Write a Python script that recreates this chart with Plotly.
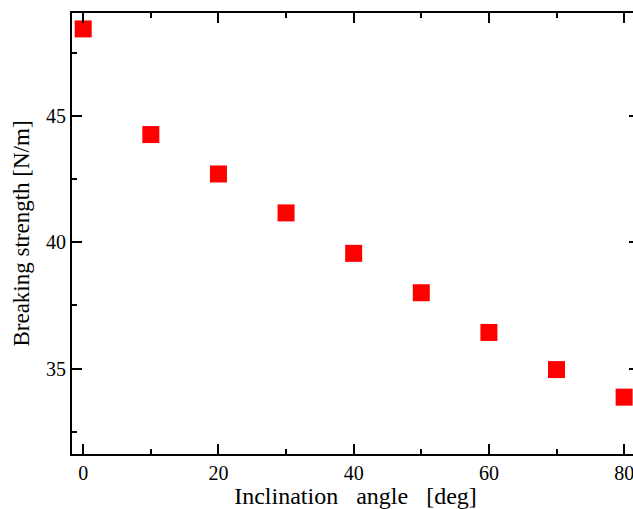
import plotly.graph_objects as go

angles = [0, 10, 20, 30, 40, 50, 60, 70, 80]
strength = [48.44, 44.26, 42.70, 41.16, 39.56, 38.00, 36.43, 34.96, 33.87]
x_ticks = [0, 20, 40, 60, 80]
y_ticks = [35, 40, 45]

FONT = "Liberation Serif, Times New Roman, serif"
SP = "\u00a0\u00a0\u00a0"

fig = go.Figure()
fig.add_trace(go.Scatter(
    x=angles, y=strength, mode="markers",
    marker=dict(symbol="square", size=17, color="#ff0000", line=dict(width=0)),
    showlegend=False,
))

axis_common = dict(
    showline=True, linecolor="black", linewidth=2, mirror="allticks",
    ticks="inside", ticklen=10, tickwidth=1.5, tickcolor="black",
    showgrid=False, zeroline=False,
    tickfont=dict(family=FONT, size=20, color="black"),
)

fig.update_xaxes(
    range=[-1.66, 82.2], tickvals=x_ticks, ticktext=[str(v) for v in x_ticks],
    minor=dict(ticks="inside", ticklen=5, tickwidth=1.5, tickcolor="black", dtick=10, tick0=0),
    title=dict(text="Inclination" + SP + "angle" + SP + "[deg]", font=dict(family=FONT, size=24, color="black"), standoff=4),
    **axis_common,
)
fig.update_yaxes(
    range=[31.62, 49.07], tickvals=y_ticks, ticktext=[str(v) for v in y_ticks],
    minor=dict(ticks="inside", ticklen=5, tickwidth=1.5, tickcolor="black", dtick=2.5, tick0=0),
    title=dict(text="Breaking strength [N/m]", font=dict(family=FONT, size=23, color="black"), standoff=10),
    **axis_common,
)

fig.update_layout(
    width=645, height=509,
    margin=dict(l=72, r=4, t=13, b=54),
    plot_bgcolor="white", paper_bgcolor="white",
)

fig.write_html(
    "out.html",
    config={"displayModeBar": False},
    post_script="document.body.style.overflow='hidden';document.documentElement.style.overflow='hidden';document.body.style.margin='0';",
)
